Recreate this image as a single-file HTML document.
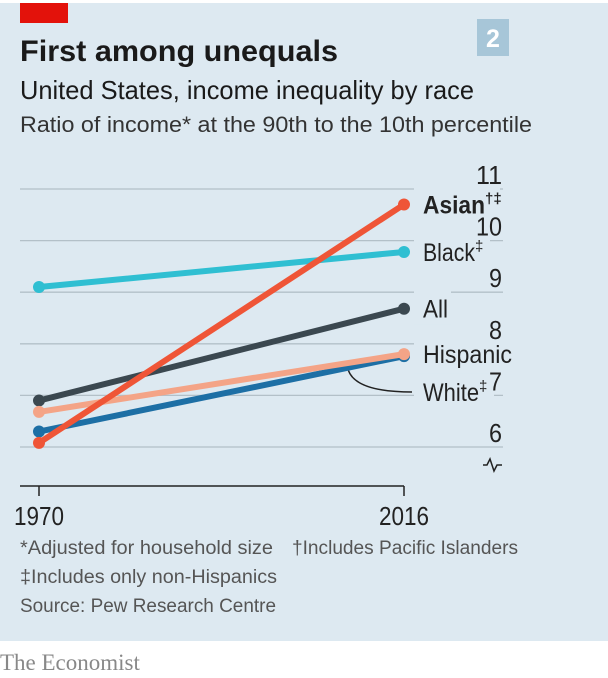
<!DOCTYPE html>
<html><head><meta charset="utf-8">
<style>
html,body{margin:0;padding:0;background:#fff;}
body{width:608px;height:678px;position:relative;overflow:hidden;font-family:"Liberation Sans",sans-serif;}
#panel{position:absolute;left:0;top:3px;width:608px;height:638px;background:#dde9f1;}
svg{position:absolute;left:0;top:0;}
</style></head><body>
<div id="panel"></div>
<svg id="chart" width="608" height="678">
  <rect x="20" y="3" width="48" height="20" fill="#e3120b"/>
  <rect x="477" y="19" width="32" height="37" fill="#a7c6d8"/>
  <text x="493" y="47" font-size="25" font-weight="bold" fill="#fff" text-anchor="middle">2</text>
  <text x="20" y="61" font-size="30" font-weight="bold" fill="#1a1a1a" textLength="318" lengthAdjust="spacingAndGlyphs">First among unequals</text>
  <text x="20" y="99" font-size="26" fill="#1a1a1a" textLength="454" lengthAdjust="spacingAndGlyphs">United States, income inequality by race</text>
  <text x="20" y="132" font-size="22" fill="#333" textLength="512" lengthAdjust="spacingAndGlyphs">Ratio of income* at the 90th to the 10th percentile</text>
  <g id="grid"></g>
  <g id="series"></g>
  <g id="labels"></g>
  <g id="ticks"></g>
  <path d="M483 465 l4 0 l3 -6 l4 12 l3 -6 l5 0" fill="none" stroke="#222" stroke-width="1.5"/>
  <line x1="20" y1="486" x2="404" y2="486" stroke="#222" stroke-width="1.5"/>
  <text x="20" y="554" font-size="19" fill="#555" textLength="253" lengthAdjust="spacingAndGlyphs">*Adjusted for household size</text>
  <text x="292" y="554" font-size="19" fill="#555" textLength="226" lengthAdjust="spacingAndGlyphs">†Includes Pacific Islanders</text>
  <text x="20" y="583" font-size="19" fill="#555" textLength="257" lengthAdjust="spacingAndGlyphs">‡Includes only non-Hispanics</text>
  <text x="20" y="612" font-size="19" fill="#555" textLength="256" lengthAdjust="spacingAndGlyphs">Source: Pew Research Centre</text>
  <text x="0" y="670" font-size="23" fill="#888" font-family="Liberation Serif">The Economist</text>
</svg>
<script>
const years = [1970, 2016];
const yTicks = [6, 7, 8, 9, 10, 11];
const seriesNames = ["Black", "All", "Hispanic", "White", "Asian"];
const black = [9.1, 9.78];
const all = [6.9, 8.68];
const hispanic = [6.68, 7.8];
const white = [6.3, 7.76];
const asian = [6.08, 10.7];

const NS = "http://www.w3.org/2000/svg";
function xS(yr){ return 39 + (yr - 1970) / (2016 - 1970) * (404 - 39); }
function yS(v){ return 447 - (v - 6) * 51.6; }
function mk(tag, attrs, parent){ const e = document.createElementNS(NS, tag); for (const k in attrs) e.setAttribute(k, attrs[k]); parent.appendChild(e); return e; }

const grid = document.getElementById('grid');
const ticks = document.getElementById('ticks');
yTicks.forEach(t => {
  const l = mk('line', {x1:20, x2:503, y1:yS(t), y2:yS(t), stroke:'#b3c0c8', 'stroke-width':1.3}, grid);
  
  
  const tx = mk('text', {x:502, y:yS(t) - 5, 'font-size':26, fill:'#222', 'text-anchor':'end', textLength: String(t).length * 13, lengthAdjust:'spacingAndGlyphs'}, ticks);
  tx.textContent = t;
  
  
});
years.forEach(yr => {
  const tk = mk('line', {x1:xS(yr), x2:xS(yr), y1:486, y2:496, stroke:'#222', 'stroke-width':1.5}, grid);
  
  
  const tx = mk('text', {x:xS(yr), y:525, 'font-size':26, fill:'#222', 'text-anchor':'middle', textLength:50, lengthAdjust:'spacingAndGlyphs'}, ticks);
  tx.textContent = yr;
  
  
});

const colors = {Black:'#2fbfd2', All:'#3b4850', Hispanic:'#f4a487', White:'#1d6fa5', Asian:'#ef5537'};
const dataMap = {Black:black, All:all, Hispanic:hispanic, White:white, Asian:asian};
const order = ["Black", "White", "All", "Hispanic", "Asian"];
const sg = document.getElementById('series');
order.forEach(n => {
  const d = dataMap[n];
  const g = mk('g', {}, sg);
  
  
  const ln = mk('line', {x1:xS(years[0]), y1:yS(d[0]), x2:xS(years[1]), y2:yS(d[1]), stroke:colors[n], 'stroke-width':6, 'stroke-linecap':'round'}, g);
  
  
  d.forEach((v, i) => {
    const c = mk('circle', {cx:xS(years[i]), cy:yS(v), r:6, fill:colors[n]}, g);
    
    
  });
});

const wx = xS(2009), wy = yS(white[0] + (white[1]-white[0]) * 39/46) + 3;
const lead = mk('path', {d:'M' + wx + ' ' + wy + ' Q' + (wx + 8) + ' 392 412 392', fill:'none', stroke:'#222', 'stroke-width':1.5}, sg);



const lg = document.getElementById('labels');
const labelDefs = [["Asian", asian[1], true, "†‡", 62], ["Black", black[1], false, "‡", 52], ["All", all[1], false, "", 25], ["Hispanic", hispanic[1], false, "", 89], ["White", 7.07, false, "‡", 56]];
labelDefs.forEach(([n, v, bold, sup, w]) => {
  const bg = mk('rect', {x:414, y:yS(v) - 18, width:w + (sup ? 24 : 12), height:34, fill:'#dde9f1'}, lg);
  
  
});
labelDefs.forEach(([n, v, bold, sup, w]) => {
  const t = mk('text', {x:423, y:yS(v) + 9, 'font-size':25, fill:'#222', 'font-weight':bold ? 'bold' : 'normal'}, ticks);
  const m = mk('tspan', {textLength:w, lengthAdjust:'spacingAndGlyphs'}, t);
  m.textContent = n;
  if (sup) { const s = mk('tspan', {'font-size':15, dy:-10}, t); s.textContent = sup; }
  
  
});
</script>
</body></html>
